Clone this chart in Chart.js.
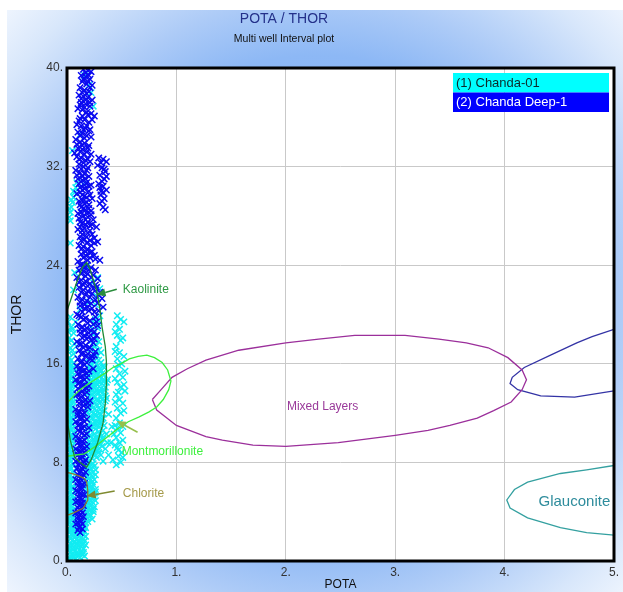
<!DOCTYPE html>
<html>
<head>
<meta charset="utf-8">
<title>POTA / THOR</title>
<script src="https://cdn.jsdelivr.net/npm/chart.js@4.4.1/dist/chart.umd.min.js"></script>
<style>
  html, body { margin: 0; padding: 0; background: #ffffff; }
  #plot { display: block; }
</style>
</head>
<body>
<canvas id="plot" width="623" height="592"></canvas>
<script>
// ---- Well names (legend rows) ----
const wellNames = ['(1) Chanda-01', '(2) Chanda Deep-1'];

// ---- Axis tick values and labels ----
const potaTicks = [0, 1, 2, 3, 4, 5];
const potaTickLabels = ['0.', '1.', '2.', '3.', '4.', '5.'];
const thorTicks = [0, 8, 16, 24, 32, 40];
const thorTickLabels = ['0.', '8.', '16.', '24.', '32.', '40.'];

// ---- Chanda-01 samples: [POTA, THOR] ----
const chanda01 = [
  [0.02,0.2],[0.06,0.3],[0.10,0.4],[0.14,0.5],[0.03,0.7],[0.07,0.8],[0.11,0.9],[0.15,1.0],
  [0.02,1.2],[0.05,1.3],[0.09,1.4],[0.13,1.5],[0.16,1.6],[0.03,1.8],[0.07,1.9],[0.11,2.0],
  [0.15,2.1],[0.02,2.3],[0.06,2.4],[0.10,2.5],[0.14,2.6],[0.17,2.7],[0.04,2.9],[0.08,3.0],
  [0.04,0.1],[0.08,0.2],[0.12,0.3],[0.16,0.4],[0.05,0.5],[0.09,0.6],[0.13,0.7],[0.01,0.9],
  [0.05,1.0],[0.09,1.1],[0.13,1.2],[0.17,1.3],[0.07,1.5],[0.11,1.6],[0.01,1.6],[0.05,1.7],
  [0.09,1.8],[0.13,1.9],[0.17,2.0],[0.04,2.1],[0.08,2.2],[0.12,2.3],[0.16,2.4],[0.01,2.6],
  [0.04,2.7],[0.08,2.6],[0.12,2.8],[0.16,2.9],[0.01,3.0],[0.06,3.1],
  [0.03,0.4],[0.07,0.5],[0.11,0.6],[0.15,0.7],[0.02,1.0],[0.06,1.1],[0.10,1.2],[0.14,1.3],
  [0.03,1.4],[0.07,1.6],[0.11,1.7],[0.15,1.8],[0.02,2.0],[0.06,2.1],[0.10,2.2],[0.14,2.3],
  [0.03,2.5],[0.07,2.7],[0.11,2.6],[0.15,2.7],[0.05,2.9],[0.09,3.1],[0.13,3.0],[0.17,3.1],
  [0.02,3.2],[0.05,3.4],[0.16,3.3],[0.19,3.5],[0.22,3.7],[0.03,3.7],[0.06,3.9],[0.18,3.9],
  [0.21,4.1],[0.24,4.2],[0.02,4.2],[0.05,4.4],[0.17,4.5],[0.20,4.7],[0.23,4.8],[0.26,4.9],
  [0.03,4.9],[0.06,5.1],[0.19,5.2],[0.22,5.4],[0.25,5.5],[0.02,5.5],[0.05,5.8],[0.18,5.8],
  [0.21,6.0],[0.24,6.2],[0.03,6.2],[0.06,6.5],[0.17,6.5],[0.20,6.7],[0.23,6.9],[0.26,7.0],
  [0.02,6.9],[0.05,7.2],[0.19,7.3],[0.22,7.5],[0.25,7.7],[0.03,7.6],[0.06,7.9],[0.18,7.9],
  [0.01,3.4],[0.04,3.6],[0.17,3.6],[0.20,3.8],[0.24,4.0],[0.01,4.0],[0.04,4.1],[0.16,4.2],
  [0.19,4.4],[0.22,4.5],[0.01,4.6],[0.04,4.7],[0.17,4.8],[0.21,5.0],[0.24,5.1],[0.01,5.2],
  [0.04,5.4],[0.18,5.5],[0.21,5.7],[0.26,5.8],[0.01,5.9],[0.04,6.0],[0.17,6.1],[0.20,6.3],
  [0.23,6.4],[0.01,6.6],[0.04,6.7],[0.18,6.8],[0.21,7.1],[0.24,7.2],[0.01,7.3],[0.04,7.5],
  [0.17,7.6],[0.20,7.8],[0.24,7.9],
  [0.19,3.2],[0.23,3.4],[0.18,4.0],[0.25,4.4],[0.20,4.3],[0.22,4.9],[0.18,5.0],[0.24,5.3],
  [0.20,5.5],[0.26,5.6],[0.19,6.1],[0.23,6.0],[0.25,6.6],[0.19,6.9],[0.22,6.6],[0.20,7.2],
  [0.26,7.4],[0.22,7.8],[0.18,7.4],
  [0.03,3.3],[0.06,3.6],[0.02,3.9],[0.05,4.1],[0.03,4.5],[0.06,4.8],[0.02,5.0],[0.05,5.3],
  [0.03,5.7],[0.06,6.0],[0.02,6.3],[0.05,6.6],[0.03,7.0],[0.06,7.3],[0.02,7.7],
  [0.02,8.2],[0.05,8.4],[0.18,8.3],[0.21,8.5],[0.25,8.6],[0.29,8.8],[0.03,8.8],[0.06,9.0],
  [0.19,9.0],[0.23,9.2],[0.27,9.3],[0.31,9.5],[0.02,9.5],[0.05,9.7],[0.20,9.7],[0.24,9.9],
  [0.28,10.0],[0.32,10.2],[0.03,10.2],[0.06,10.4],[0.19,10.4],[0.22,10.6],[0.26,10.7],[0.30,10.9],
  [0.02,10.9],[0.05,11.1],[0.21,11.2],[0.25,11.3],[0.29,11.5],[0.33,11.6],[0.03,11.6],[0.06,11.8],
  [0.20,11.9],[0.24,12.0],[0.28,12.1],
  [0.01,8.0],[0.04,8.1],[0.19,8.1],[0.23,8.3],[0.27,8.4],[0.31,8.6],[0.01,8.6],[0.04,8.7],
  [0.17,8.7],[0.21,8.8],[0.25,9.0],[0.29,9.1],[0.01,9.2],[0.04,9.3],[0.18,9.4],[0.22,9.5],
  [0.26,9.6],[0.30,9.8],[0.01,9.9],[0.04,10.0],[0.17,10.0],[0.21,10.2],[0.25,10.3],[0.29,10.5],
  [0.33,10.6],[0.01,10.6],[0.04,10.7],[0.18,10.8],[0.23,10.9],[0.27,11.0],[0.31,11.2],[0.01,11.3],
  [0.04,11.4],[0.19,11.5],[0.23,11.6],[0.27,11.8],[0.31,11.9],[0.01,12.0],[0.04,12.1],[0.18,12.1],
  [0.20,8.5],[0.24,8.8],[0.28,9.0],[0.32,9.3],[0.21,9.3],[0.25,9.5],[0.29,9.6],[0.33,9.9],
  [0.22,10.1],[0.26,10.0],[0.30,10.3],[0.34,11.0],[0.20,10.9],[0.24,11.1],[0.28,11.3],[0.32,11.5],
  [0.22,11.7],[0.26,11.9],[0.30,12.0],[0.34,12.2],
  [0.03,8.5],[0.06,8.8],[0.02,9.0],[0.05,9.4],[0.03,9.8],[0.06,10.1],[0.02,10.4],[0.05,10.8],
  [0.03,11.2],[0.06,11.5],[0.02,11.8],[0.05,12.2],
  [0.35,9.1],[0.38,8.6],[0.42,8.2],[0.45,7.8],[0.49,8.0],[0.40,9.6],[0.36,10.3],[0.47,9.0],
  [0.33,8.1],[0.51,8.4],[0.38,11.9],[0.41,10.9],[0.37,9.6],[0.43,10.3],
  [0.02,12.3],[0.05,12.5],[0.19,12.4],[0.23,12.6],[0.27,12.7],[0.31,12.9],[0.35,13.0],[0.03,13.0],
  [0.06,13.2],[0.21,13.3],[0.25,13.4],[0.29,13.6],[0.33,13.7],[0.02,13.7],[0.05,13.9],[0.20,14.0],
  [0.24,14.1],[0.28,14.3],[0.32,14.4],[0.36,14.5],[0.03,14.4],[0.06,14.6],[0.22,14.7],[0.26,14.8],
  [0.30,15.0],[0.34,15.1],[0.02,15.1],[0.05,15.3],[0.21,15.4],[0.25,15.6],[0.29,15.7],[0.33,15.8],
  [0.03,15.8],[0.06,16.0],
  [0.21,12.2],[0.25,12.3],[0.29,12.4],[0.33,12.5],[0.01,12.7],[0.04,12.8],[0.17,12.8],[0.23,13.0],
  [0.27,13.1],[0.31,13.3],[0.35,13.4],[0.01,13.4],[0.04,13.5],[0.19,13.6],[0.23,13.8],[0.27,13.9],
  [0.31,14.0],[0.35,14.1],[0.01,14.1],[0.04,14.2],[0.18,14.3],[0.22,14.4],[0.26,14.5],[0.30,14.6],
  [0.34,14.7],[0.01,14.8],[0.04,14.9],[0.19,15.0],[0.23,15.1],[0.27,15.3],[0.31,15.4],[0.01,15.5],
  [0.04,15.6],[0.19,15.7],[0.23,15.9],[0.27,16.0],[0.31,16.1],[0.01,16.2],[0.04,16.3],[0.20,16.5],
  [0.20,12.6],[0.24,12.9],[0.28,13.0],[0.32,13.1],[0.36,13.2],[0.22,13.5],[0.26,13.7],[0.30,13.8],
  [0.34,13.9],[0.21,14.2],[0.25,14.3],[0.29,14.5],[0.33,14.6],[0.37,14.7],[0.20,14.8],[0.24,14.9],
  [0.28,15.1],[0.32,15.2],[0.22,15.5],[0.26,15.5],[0.30,15.6],[0.34,15.7],[0.21,16.0],[0.25,16.2],
  [0.29,16.3],
  [0.03,12.6],[0.06,12.9],[0.02,13.2],[0.05,13.6],[0.03,14.0],[0.06,14.3],[0.02,14.6],[0.05,15.0],
  [0.03,15.4],[0.06,15.7],[0.02,16.0],
  [0.02,16.5],[0.06,16.8],[0.23,16.3],[0.27,16.7],[0.31,16.9],[0.03,17.3],[0.07,17.6],[0.25,17.4],
  [0.29,17.8],[0.02,18.1],[0.06,18.5],[0.24,18.4],[0.28,18.9],[0.04,19.0],[0.08,19.4],[0.26,19.6],
  [0.30,19.9],[0.03,19.8],
  [0.25,16.9],[0.29,17.1],[0.01,17.0],[0.05,17.1],[0.22,17.2],[0.27,17.5],[0.01,17.8],[0.04,17.9],
  [0.23,17.9],[0.26,18.2],[0.01,18.6],[0.05,18.8],[0.22,19.0],[0.25,19.3],[0.01,19.4],[0.29,19.5],
  [0.12,20.4],[0.20,21.0],[0.27,21.5],[0.24,22.6],[0.28,23.0],[0.07,23.4],[0.18,23.9],[0.26,20.8],
  [0.30,22.1],[0.06,22.0],
  [0.46,19.9],[0.49,19.6],[0.45,19.2],[0.48,18.8],[0.46,18.3],[0.49,17.9],[0.45,17.4],[0.48,16.9],
  [0.46,16.4],[0.50,16.0],[0.45,15.6],[0.48,15.2],[0.51,14.9],[0.46,14.5],[0.49,14.1],[0.53,13.8],
  [0.45,13.5],[0.48,13.1],[0.51,12.8],[0.46,12.4],[0.49,12.0],[0.45,11.6],[0.48,11.2],[0.46,10.8],
  [0.49,10.4],[0.45,10.0],[0.48,9.6],[0.46,9.2],[0.50,8.8],[0.47,8.5],
  [0.52,19.4],[0.44,18.6],[0.51,18.1],[0.44,17.0],[0.52,16.6],[0.47,15.9],[0.53,15.4],[0.44,14.8],
  [0.52,14.3],[0.47,13.7],[0.44,12.9],[0.52,12.2],[0.44,11.0],[0.51,10.9],[0.44,9.4],[0.51,9.8],
  [0.02,27.9],[0.03,28.3],[0.04,28.7],[0.05,29.1],[0.06,29.5],[0.07,29.9],[0.08,30.3],[0.09,30.7],
  [0.02,28.6],[0.04,29.3],[0.06,30.0],[0.03,27.6],
  [0.20,38.6],[0.24,36.9],[0.03,25.8],[0.05,33.3],[0.15,30.6],[0.22,38.0],[0.16,39.4],[0.12,34.6]
];

// ---- Chanda Deep-1 samples: [POTA, THOR] ----
const chandaDeep1 = [
  [0.15,39.9],[0.19,39.8],[0.22,39.7],[0.13,39.4],[0.17,39.3],[0.21,39.1],[0.14,38.9],[0.18,38.7],
  [0.23,38.6],[0.12,38.4],[0.16,38.2],[0.20,38.1],
  [0.17,39.6],[0.20,39.4],[0.15,39.1],[0.19,38.9],[0.21,38.4],[0.14,38.0],[0.18,37.9],[0.13,37.5],
  [0.11,37.8],[0.15,37.7],[0.19,37.6],[0.23,37.4],[0.13,37.2],[0.17,37.1],[0.21,36.9],[0.10,36.7],
  [0.14,36.6],[0.18,36.4],[0.22,36.3],[0.25,36.1],[0.12,35.9],[0.16,35.8],[0.20,35.6],[0.09,35.4],
  [0.13,35.3],[0.17,35.1],[0.21,35.0],
  [0.17,37.4],[0.21,37.2],[0.12,37.0],[0.16,36.8],[0.19,36.2],[0.14,36.1],[0.23,35.8],[0.11,35.7],
  [0.18,35.3],[0.15,35.0],
  [0.10,34.8],[0.14,34.7],[0.18,34.5],[0.22,34.4],[0.08,34.2],[0.12,34.0],[0.16,33.9],[0.20,33.7],
  [0.10,33.5],[0.14,33.4],[0.18,33.2],[0.22,33.0],[0.07,33.1],
  [0.12,34.5],[0.20,34.9],[0.16,34.3],[0.09,33.8],[0.14,33.7],[0.19,33.5],[0.12,33.2],[0.16,33.0],
  [0.09,32.8],[0.13,32.7],[0.17,32.5],[0.21,32.4],[0.11,32.2],[0.15,32.0],[0.19,31.9],[0.08,31.7],
  [0.12,31.5],[0.16,31.4],[0.20,31.2],[0.10,31.0],[0.14,30.9],[0.18,30.7],[0.22,30.5],[0.12,30.3],
  [0.16,30.2],[0.20,30.0],
  [0.11,32.6],[0.19,32.6],[0.15,32.3],[0.13,31.8],[0.18,31.7],[0.09,31.3],[0.14,31.2],[0.17,31.0],
  [0.11,30.6],[0.16,30.5],[0.20,30.4],[0.14,30.1],
  [0.29,32.7],[0.33,32.6],[0.36,32.4],[0.28,32.1],[0.32,31.9],[0.35,31.6],[0.30,31.3],[0.34,31.0],
  [0.29,30.6],[0.33,30.4],[0.36,30.1],[0.31,29.7],[0.34,29.4],[0.30,29.0],[0.33,28.7],[0.35,28.5],
  [0.31,30.0],[0.36,31.2],[0.31,32.3],[0.34,31.8],[0.32,30.8],[0.30,30.3],[0.33,29.9],[0.32,29.2],
  [0.09,29.8],[0.14,29.7],[0.18,29.5],[0.23,29.4],[0.11,29.2],[0.16,29.0],[0.20,28.9],[0.13,28.7],
  [0.17,28.5],[0.22,28.4],[0.10,28.2],[0.15,28.0],[0.19,27.9],[0.24,27.7],[0.12,27.5],[0.17,27.3],
  [0.21,27.2],[0.27,27.1],
  [0.12,29.9],[0.16,29.6],[0.21,29.7],[0.14,29.3],[0.18,29.1],[0.12,28.9],[0.15,28.6],[0.20,28.6],
  [0.13,28.3],[0.18,28.2],[0.22,28.1],[0.11,27.8],[0.17,27.7],[0.14,27.4],[0.19,27.5],[0.23,27.3],
  [0.10,26.9],[0.14,26.8],[0.19,26.6],[0.23,26.5],[0.12,26.3],[0.16,26.1],[0.21,26.0],[0.25,25.8],
  [0.28,25.9],[0.11,25.6],[0.15,25.5],[0.19,25.3],[0.23,25.1],[0.13,24.9],[0.17,24.8],[0.21,24.6],
  [0.26,24.5],[0.10,24.3],[0.14,24.1],[0.18,24.0],[0.30,24.4],
  [0.12,27.1],[0.16,27.0],[0.21,26.8],[0.14,26.5],[0.18,26.3],[0.25,26.2],[0.13,26.0],[0.18,25.8],
  [0.22,25.6],[0.13,25.3],[0.17,25.1],[0.21,25.0],[0.25,24.8],[0.15,24.6],[0.19,24.4],
  [0.22,23.8],[0.11,23.6],[0.15,23.5],[0.19,23.3],[0.24,23.2],[0.09,23.0],[0.13,22.8],[0.17,22.7],
  [0.21,22.5],[0.26,22.4],[0.11,22.2],[0.15,22.0],[0.19,21.9],[0.23,21.7],[0.29,21.6],[0.10,21.4],
  [0.14,21.2],[0.18,21.1],[0.22,20.9],[0.32,21.3],[0.33,20.6],[0.12,20.7],[0.16,20.5],[0.20,20.3],
  [0.25,20.2],[0.09,20.0],
  [0.12,24.0],[0.16,23.8],[0.20,23.6],[0.13,23.3],[0.17,23.1],[0.22,23.0],[0.11,22.6],[0.15,22.4],
  [0.19,22.3],[0.24,22.1],[0.13,21.8],[0.17,21.6],[0.21,21.4],[0.26,21.2],[0.12,21.0],[0.16,20.8],
  [0.19,20.6],[0.23,20.5],[0.14,20.2],
  [0.26,23.6],[0.28,22.9],[0.27,22.2],[0.30,21.8],[0.28,20.9],[0.29,20.3],[0.26,19.8],[0.28,19.1],
  [0.25,18.6],[0.27,18.3],[0.24,17.7],[0.26,17.0],[0.23,16.3],[0.25,16.7],
  [0.13,19.8],[0.17,19.7],[0.21,19.5],[0.27,19.4],[0.10,19.2],[0.14,19.0],[0.18,18.9],[0.22,18.7],
  [0.12,18.5],[0.16,18.3],[0.20,18.2],[0.25,18.0],[0.09,17.8],[0.13,17.6],[0.17,17.5],[0.21,17.3],
  [0.11,17.1],[0.15,16.9],[0.19,16.8],[0.23,16.6],[0.10,16.4],[0.14,16.2],[0.18,16.1],
  [0.11,19.9],[0.15,19.6],[0.19,19.3],[0.24,19.2],[0.12,18.8],[0.16,18.7],[0.20,18.5],[0.14,18.1],
  [0.18,18.0],[0.22,17.9],[0.11,17.6],[0.15,17.3],[0.19,17.2],[0.13,16.8],[0.17,16.6],[0.21,16.4],
  [0.12,16.1],[0.16,15.9],
  [0.09,15.8],[0.12,15.7],[0.16,15.5],[0.20,15.4],[0.24,15.6],[0.10,15.2],[0.14,15.0],[0.18,14.9],
  [0.08,14.7],[0.12,14.5],[0.16,14.3],[0.20,14.2],[0.10,14.0],[0.14,13.8],[0.18,13.7],[0.09,13.5],
  [0.13,13.3],[0.17,13.1],[0.21,13.0],[0.11,12.8],[0.15,12.6],[0.19,12.5],[0.08,12.3],[0.12,12.1],
  [0.16,12.0],
  [0.11,15.5],[0.14,15.4],[0.18,15.2],[0.12,14.9],[0.16,14.7],[0.10,14.4],[0.14,14.2],[0.18,14.0],
  [0.12,13.6],[0.16,13.5],[0.11,13.1],[0.15,12.9],[0.19,12.8],[0.13,12.4],
  [0.10,11.8],[0.14,11.6],[0.18,11.5],[0.08,11.3],[0.12,11.1],[0.16,10.9],[0.20,10.8],[0.10,10.6],
  [0.14,10.4],[0.18,10.3],[0.08,10.1],[0.12,9.9],[0.16,9.8],[0.10,9.6],[0.14,9.4],[0.18,9.3],
  [0.08,9.1],[0.12,8.9],[0.16,8.8],[0.10,8.6],[0.14,8.4],[0.17,8.2],[0.08,8.1],
  [0.10,12.0],[0.14,11.9],[0.12,11.5],[0.16,11.3],[0.10,11.0],[0.14,10.8],[0.12,10.5],[0.16,10.2],
  [0.10,9.9],[0.14,9.7],[0.12,9.3],[0.16,9.1],[0.10,8.9],[0.14,8.7],[0.12,8.3],[0.16,8.0],
  [0.12,7.9],[0.15,7.7],[0.09,7.5],[0.13,7.3],[0.17,7.2],[0.10,7.0],[0.14,6.8],[0.08,6.6],
  [0.12,6.4],[0.16,6.3],[0.10,6.1],[0.14,5.9],[0.08,5.7],[0.12,5.5],[0.16,5.4],[0.10,5.2],
  [0.14,5.0],[0.08,4.8],[0.12,4.6],[0.15,4.5],[0.10,4.3],[0.13,4.1],
  [0.10,7.8],[0.14,7.5],[0.11,7.2],[0.15,7.0],[0.12,6.7],[0.10,6.4],[0.14,6.2],[0.12,5.9],
  [0.10,5.6],[0.14,5.4],[0.12,5.1],[0.10,4.9],[0.14,4.7],[0.11,4.5],
  [0.08,3.9],[0.12,3.7],[0.15,3.6],[0.10,3.4],[0.13,3.2],[0.08,3.0],[0.12,2.8],[0.14,2.6],
  [0.10,2.5],[0.12,2.3],[0.10,4.0],[0.14,3.9],[0.10,3.6],[0.12,3.3],[0.10,3.1],[0.14,3.0],[0.11,2.7]
];

// ---- Mineral zone outlines: [POTA, THOR] ----
const kaolinite = [
  [0.0,20.3],[0.05,21.6],[0.10,22.9],[0.14,23.8],[0.18,24.2],[0.21,23.7],[0.24,22.8],[0.27,22.0],
  [0.30,20.5],[0.32,19.0],[0.35,17.4],[0.36,16.2],[0.36,14.4],[0.35,12.8],[0.33,11.2],[0.28,9.6],
  [0.22,8.2],[0.18,7.6],[0.12,8.0],[0.07,8.4],[0.03,9.8],[0.01,11.0],[0.01,14.0],[0.01,17.5],[0.0,20.3]
];
const montmorillonite = [
  [0.0,8.5],[0.08,8.6],[0.16,8.7],[0.26,9.3],[0.36,10.0],[0.46,10.7],[0.56,11.3],[0.66,11.7],
  [0.75,12.1],[0.82,12.5],[0.88,13.1],[0.93,13.9],[0.95,14.6],[0.92,15.5],[0.87,16.1],[0.80,16.5],
  [0.73,16.7],[0.65,16.6],[0.57,16.4],[0.49,16.0],[0.42,15.7],[0.34,15.2],[0.27,14.8],[0.20,14.4],
  [0.12,13.9],[0.05,13.3],[0.0,12.8]
];
const chlorite = [
  [0.0,7.2],[0.08,7.0],[0.16,6.7],[0.18,6.4],[0.19,5.7],[0.19,4.95],[0.15,4.3],[0.06,3.9],[0.0,3.7]
];
const mixedLayers = [
  [0.78,13.1],[0.86,13.9],[0.96,14.9],[1.10,15.6],[1.27,16.3],[1.57,17.1],[2.00,17.7],[2.30,18.0],
  [2.63,18.3],[3.09,18.3],[3.40,18.0],[3.65,17.7],[3.85,17.3],[4.03,16.5],[4.16,15.5],[4.20,14.7],
  [4.16,13.9],[4.06,12.9],[3.90,12.2],[3.75,11.6],[3.50,11.0],[3.30,10.6],[3.00,10.2],[2.48,9.6],
  [2.00,9.3],[1.70,9.4],[1.42,9.8],[1.27,10.1],[1.00,11.0],[0.82,12.25],[0.78,13.1]
];
const illite = [
  [5.0,18.8],[4.80,18.2],[4.66,17.7],[4.42,16.7],[4.18,15.7],[4.07,14.9],[4.05,14.4],[4.12,13.9],
  [4.33,13.4],[4.64,13.3],[5.0,13.8]
];
const glauconite = [
  [5.0,7.75],[4.75,7.4],[4.51,7.1],[4.21,6.4],[4.09,5.8],[4.02,4.95],[4.05,4.3],[4.21,3.5],
  [4.51,2.7],[4.75,2.3],[5.0,2.1]
];

// Zone captions and their pointer arrows, in axis units
const zoneNotes = [
  { text: 'Kaolinite',       at: [0.51, 22.0],  arrowFrom: [0.455, 22.05], arrowTo: [0.27, 21.6],  color: '#2f9a45', arrowColor: '#2a8c3c', size: 12 },
  { text: 'Montmorillonite', at: [0.50, 8.9],   arrowFrom: [0.645, 10.45], arrowTo: [0.455, 11.36], color: '#3ef03e', arrowColor: '#96bf4c', size: 12 },
  { text: 'Chlorite',        at: [0.51, 5.5],   arrowFrom: [0.436, 5.68],  arrowTo: [0.18, 5.27],  color: '#a59a4a', arrowColor: '#7f8a30', size: 12 },
  { text: 'Mixed Layers',    at: [2.01, 12.5],  color: '#9a3a9a', size: 12 },
  { text: 'Glauconite',      at: [4.31, 4.8],   color: '#2e8c9c', size: 15 }
];

const FONT = "'Liberation Sans', Arial, sans-serif";
const toXY = pts => pts.map(p => ({ x: p[0], y: p[1] }));

function outline(data, color) {
  return {
    data: toXY(data), showLine: true, pointRadius: 0, borderColor: color,
    borderWidth: 1.3, fill: false, tension: 0, order: 0
  };
}

// Gradient backdrop, white plot area and headings
const backdrop = {
  id: 'backdrop',
  beforeDraw(chart) {
    const { ctx, chartArea: a, width, height } = chart;
    ctx.save();
    ctx.fillStyle = '#ffffff';
    ctx.fillRect(0, 0, width, height);
    const g = ctx.createRadialGradient(318, 300, 0, 318, 300, 445);
    g.addColorStop(0, '#79a9f2');
    g.addColorStop(0.55, '#8db8f5');
    g.addColorStop(0.68, '#adcbf7');
    g.addColorStop(0.85, '#d8e7fb');
    g.addColorStop(1, '#f7faff');
    ctx.fillStyle = g;
    ctx.fillRect(7, 10, width - 7, height - 10);
    ctx.fillStyle = '#ffffff';
    ctx.fillRect(a.left, a.top, a.right - a.left, a.bottom - a.top);

    ctx.textAlign = 'center';
    ctx.textBaseline = 'middle';
    ctx.fillStyle = '#24318a';
    ctx.font = '14px ' + FONT;
    ctx.fillText('POTA / THOR', 284, 19);
    ctx.fillStyle = '#111111';
    ctx.font = '10.5px ' + FONT;
    ctx.fillText('Multi well Interval plot', 284, 39);
    ctx.restore();
  }
};

function arrow(ctx, x0, y0, x1, y1, color) {
  const ang = Math.atan2(y1 - y0, x1 - x0);
  const len = 9, half = 4;
  const bx = x1 - len * Math.cos(ang), by = y1 - len * Math.sin(ang);
  ctx.strokeStyle = color;
  ctx.fillStyle = color;
  ctx.lineWidth = 1.6;
  ctx.beginPath();
  ctx.moveTo(x0, y0);
  ctx.lineTo(bx, by);
  ctx.stroke();
  ctx.beginPath();
  ctx.moveTo(x1, y1);
  ctx.lineTo(bx + half * Math.sin(ang), by - half * Math.cos(ang));
  ctx.lineTo(bx - half * Math.sin(ang), by + half * Math.cos(ang));
  ctx.closePath();
  ctx.fill();
}

// Zone captions with arrows
const zoneCaptions = {
  id: 'zoneCaptions',
  afterDatasetsDraw(chart) {
    const { ctx, scales: { x, y } } = chart;
    ctx.save();
    zoneNotes.forEach(n => {
      if (n.arrowFrom) {
        arrow(ctx, x.getPixelForValue(n.arrowFrom[0]), y.getPixelForValue(n.arrowFrom[1]),
          x.getPixelForValue(n.arrowTo[0]), y.getPixelForValue(n.arrowTo[1]), n.arrowColor);
      }
      ctx.fillStyle = n.color;
      ctx.font = n.size + 'px ' + FONT;
      ctx.textAlign = 'left';
      ctx.textBaseline = 'middle';
      ctx.fillText(n.text, x.getPixelForValue(n.at[0]), y.getPixelForValue(n.at[1]));
    });
    ctx.restore();
  }
};

// Plot frame and the well legend box
const frameAndLegend = {
  id: 'frameAndLegend',
  afterDraw(chart) {
    const { ctx, chartArea: a } = chart;
    ctx.save();
    ctx.strokeStyle = '#000000';
    ctx.lineWidth = 3;
    ctx.strokeRect(a.left, a.top, a.right - a.left, a.bottom - a.top);

    const ds = chart.data.datasets;
    const lx = 453, ly = 73, lw = 156, rh = 19.5;
    ctx.font = '13px ' + FONT;
    ctx.textAlign = 'left';
    ctx.textBaseline = 'middle';
    wellNames.forEach((name, i) => {
      ctx.fillStyle = ds[i].legendFill;
      ctx.fillRect(lx, ly + i * rh, lw, rh);
      ctx.fillStyle = ds[i].legendText;
      ctx.fillText(name, lx + 3, ly + i * rh + rh / 2 + 0.5);
    });
    ctx.restore();
  }
};

new Chart(document.getElementById('plot'), {
  type: 'scatter',
  data: {
    datasets: [
      {
        label: wellNames[0], data: toXY(chanda01), pointStyle: 'crossRot', pointRadius: 4.5,
        borderColor: '#12ecf2', backgroundColor: '#12ecf2', borderWidth: 1.5, order: 2,
        legendFill: '#00ffff', legendText: '#0d2b2b'
      },
      {
        label: wellNames[1], data: toXY(chandaDeep1), pointStyle: 'crossRot', pointRadius: 4.5,
        borderColor: '#0a0af0', backgroundColor: '#0a0af0', borderWidth: 1.5, order: 1,
        legendFill: '#0000ff', legendText: '#ffffff'
      },
      outline(kaolinite, '#1f8a36'),
      outline(montmorillonite, '#3ef03e'),
      outline(chlorite, '#8a7d32'),
      outline(mixedLayers, '#9b2f9b'),
      outline(illite, '#3333a5'),
      outline(glauconite, '#34a0a0')
    ]
  },
  options: {
    responsive: false,
    animation: false,
    events: [],
    layout: { padding: { top: 68, left: 7, right: 7, bottom: 0 } },
    plugins: {
      legend: { display: false },
      tooltip: { enabled: false },
      title: { display: false }
    },
    scales: {
      x: {
        type: 'linear', min: 0, max: 5,
        afterFit(scale) { scale.height = 31; },
        afterBuildTicks(scale) { scale.ticks = potaTicks.map(v => ({ value: v })); },
        ticks: {
          padding: 4, color: '#333333', font: { family: FONT, size: 12 },
          callback: (v) => potaTickLabels[potaTicks.indexOf(v)]
        },
        grid: { color: '#c9c9c9', lineWidth: 1, drawTicks: false },
        border: { display: false },
        title: { display: true, text: 'POTA', color: '#111111', font: { family: FONT, size: 12 }, padding: { top: 0, bottom: 0 } }
      },
      y: {
        type: 'linear', min: 0, max: 40,
        afterFit(scale) { scale.width = 60; },
        afterBuildTicks(scale) { scale.ticks = thorTicks.map(v => ({ value: v })); },
        ticks: {
          padding: 4, color: '#333333', font: { family: FONT, size: 12 },
          callback: (v) => thorTickLabels[thorTicks.indexOf(v)]
        },
        grid: { color: '#c9c9c9', lineWidth: 1, drawTicks: false },
        border: { display: false },
        title: { display: true, text: 'THOR', color: '#111111', font: { family: FONT, size: 14 }, padding: { top: 2, bottom: 0 } }
      }
    }
  },
  plugins: [backdrop, zoneCaptions, frameAndLegend]
});
</script>
</body>
</html>
